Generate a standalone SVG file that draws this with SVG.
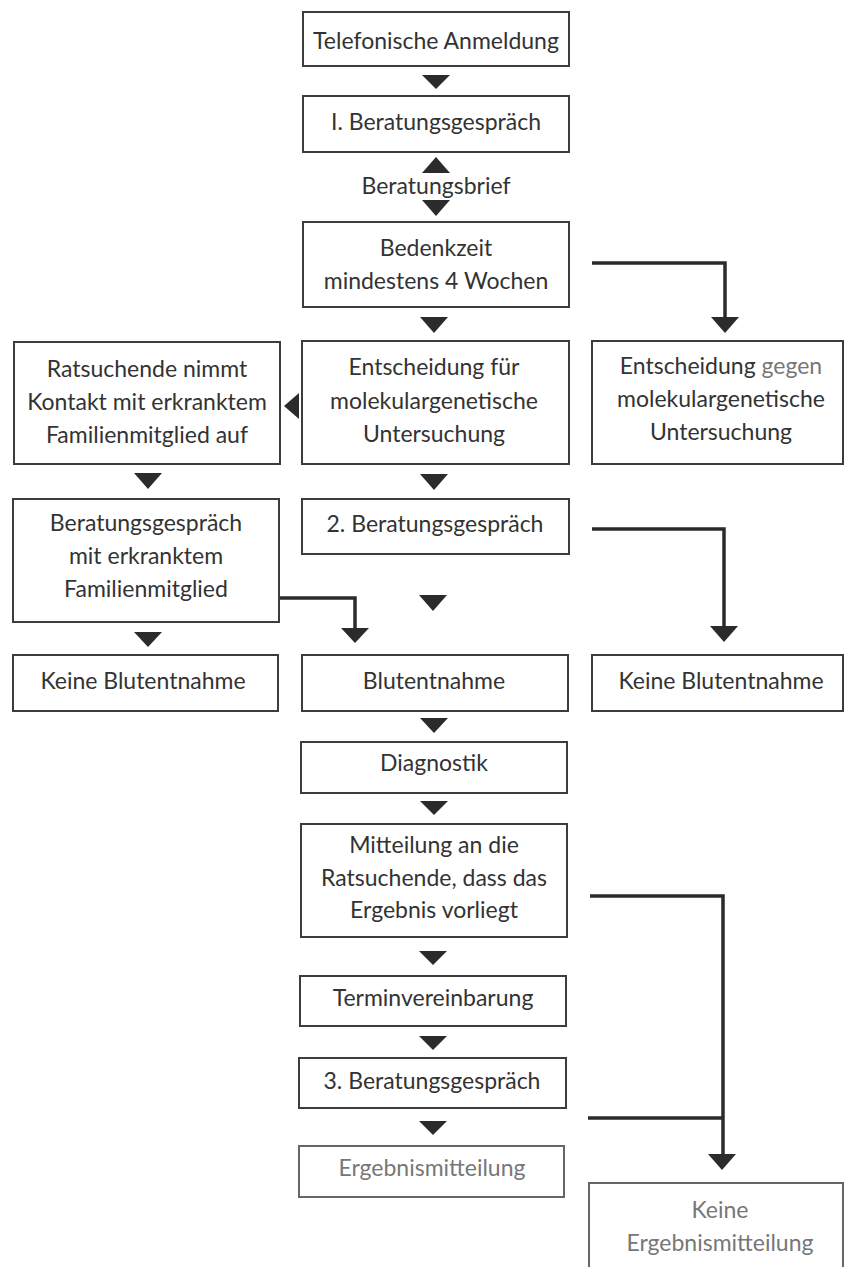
<svg xmlns="http://www.w3.org/2000/svg" width="848" height="1267" viewBox="0 0 848 1267">
<style>
.bx{fill:#fff;stroke:#3c3c3c;stroke-width:2}
.t{font-family:Lato,"Open Sans",sans-serif;font-size:23px;fill:#333;text-anchor:middle}
.lt{fill:#777}
.ah{fill:#2b2b2b}
.cn{fill:none;stroke:#2b2b2b;stroke-width:3.5}
</style>
<rect width="848" height="1267" fill="#fff"/>
<g id="connectors">
<path class="cn" d="M592,263 H725 V320"/>
<path class="cn" d="M592,529 H724 V628"/>
<path class="cn" d="M280,598 H355 V630"/>
<path class="cn" d="M590,896 H723 V1156"/>
<path class="cn" d="M588,1118 H723"/>
<polygon class="ah" points="422,75 450,75 436,89"/>
<polygon class="ah" points="422,173 450,173 436,157"/>
<polygon class="ah" points="422,200 450,200 436,216"/>
<polygon class="ah" points="420,317 448,317 434,333"/>
<polygon class="ah" points="299,393 299,419 284,406"/>
<polygon class="ah" points="134,473 162,473 148,489"/>
<polygon class="ah" points="420,474 448,474 434,490"/>
<polygon class="ah" points="419,595 447,595 433,611"/>
<polygon class="ah" points="134,632 162,632 148,647"/>
<polygon class="ah" points="341,628 369,628 355,643"/>
<polygon class="ah" points="711,317 739,317 725,333"/>
<polygon class="ah" points="710,626 738,626 724,642"/>
<polygon class="ah" points="420,718 448,718 434,733"/>
<polygon class="ah" points="420,801 448,801 434,815"/>
<polygon class="ah" points="419,951 447,951 433,965"/>
<polygon class="ah" points="419,1036 447,1036 433,1050"/>
<polygon class="ah" points="419,1121 447,1121 433,1135"/>
<polygon class="ah" points="708,1154 736,1154 722,1170"/>
</g>
<g id="n1"><rect class="bx" x="303" y="12" width="266" height="54"/><text class="t" x="436" y="49">Telefonische Anmeldung</text></g>
<g id="n2"><rect class="bx" x="303" y="96" width="266" height="56"/><text class="t" x="436" y="130">I. Beratungsgespräch</text></g>
<g id="lbl"><text class="t" x="436" y="194">Beratungsbrief</text></g>
<g id="n3"><rect class="bx" x="303" y="222" width="266" height="85"/><text class="t" x="436" y="256">Bedenkzeit</text><text class="t" x="436" y="289">mindestens 4 Wochen</text></g>
<g id="n4"><rect class="bx" x="14" y="342" width="266" height="122"/><text class="t" x="147" y="377">Ratsuchende nimmt</text><text class="t" x="147" y="410">Kontakt mit erkranktem</text><text class="t" x="147" y="443">Familienmitglied auf</text></g>
<g id="n5"><rect class="bx" x="302" y="341" width="267" height="123"/><text class="t" x="434" y="375">Entscheidung für</text><text class="t" x="434" y="409">molekulargenetische</text><text class="t" x="434" y="442">Untersuchung</text></g>
<g id="n6"><rect class="bx" x="592" y="341" width="251" height="123"/><text class="t" x="721" y="374">Entscheidung <tspan class="lt">gegen</tspan></text><text class="t" x="721" y="407">molekulargenetische</text><text class="t" x="721" y="440">Untersuchung</text></g>
<g id="n7"><rect class="bx" x="13" y="499" width="266" height="123"/><text class="t" x="146" y="531">Beratungsgespräch</text><text class="t" x="146" y="564">mit erkranktem</text><text class="t" x="146" y="597">Familienmitglied</text></g>
<g id="n8"><rect class="bx" x="302" y="499" width="267" height="55"/><text class="t" x="435" y="532">2. Beratungsgespräch</text></g>
<g id="n9"><rect class="bx" x="13" y="655" width="265" height="56"/><text class="t" x="143" y="689">Keine Blutentnahme</text></g>
<g id="n10"><rect class="bx" x="302" y="655" width="266" height="56"/><text class="t" x="434" y="689">Blutentnahme</text></g>
<g id="n11"><rect class="bx" x="592" y="655" width="251" height="56"/><text class="t" x="721" y="689">Keine Blutentnahme</text></g>
<g id="n12"><rect class="bx" x="301" y="742" width="266" height="51"/><text class="t" x="434" y="771">Diagnostik</text></g>
<g id="n13"><rect class="bx" x="301" y="824" width="266" height="113"/><text class="t" x="434" y="853">Mitteilung an die</text><text class="t" x="434" y="886">Ratsuchende, dass das</text><text class="t" x="434" y="918">Ergebnis vorliegt</text></g>
<g id="n14"><rect class="bx" x="300" y="976" width="266" height="50"/><text class="t" x="433" y="1006">Terminvereinbarung</text></g>
<g id="n15"><rect class="bx" x="299" y="1058" width="267" height="50"/><text class="t" x="432" y="1089">3. Beratungsgespräch</text></g>
<g id="n16"><rect class="bx" x="299" y="1146" width="265" height="51" style="stroke:#666"/><text class="t lt" x="432" y="1176">Ergebnismitteilung</text></g>
<g id="n17"><rect class="bx" x="589" y="1183" width="254" height="100" style="stroke:#666"/><text class="t lt" x="720" y="1218">Keine</text><text class="t lt" x="720" y="1251">Ergebnismitteilung</text></g>
</svg>
